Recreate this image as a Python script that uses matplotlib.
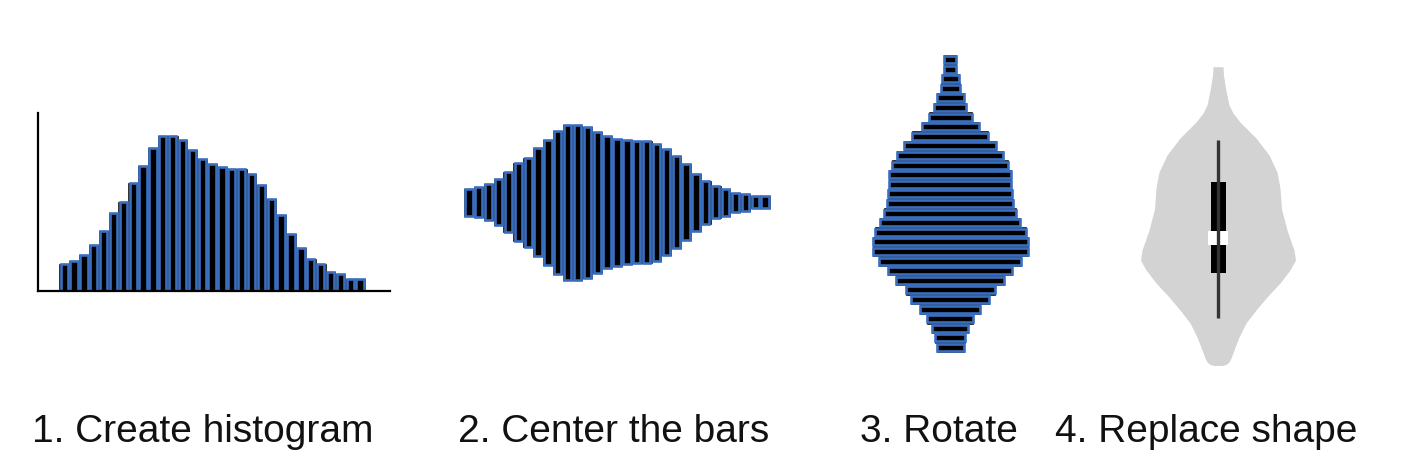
import matplotlib
matplotlib.use("Agg")
import matplotlib.pyplot as plt
import numpy as np

# histogram counts (bin 1 .. bin 31)
counts = [27, 30, 36, 46, 60, 78, 89, 108, 125, 143, 155, 155, 151, 141, 132, 127,
          124, 122, 122, 117, 106, 92, 76, 57, 43, 32, 27, 19, 17, 12, 12]

# violin outline: level (from bottom) and half width
violin_level = [313.3, 305, 292, 275, 267, 258, 250, 242, 225, 208, 192, 171, 150,
                130, 120, 110, 97, 83, 70, 57, 43, 30, 22, 18, 15.5, 14.5]
violin_half = [5, 5.5, 7.5, 11, 15, 22, 30, 38, 51, 59, 62, 63.5, 69,
               76, 77.5, 72, 62, 49, 38, 28, 21, 16, 13, 11, 8, 4]

# box plot stats on the same scale
whisker_lo, q1, median, q3, whisker_hi = 62, 107, 142, 198, 240

labels = ["1. Create histogram", "2. Center the bars", "3. Rotate", "4. Replace shape"]
label_x = [203, 614, 939, 1206]

W, H = 1411, 472
blue = "#3a6ebe"

fig = plt.figure(figsize=(W / 100, H / 100), dpi=100)


def px_axes(l, t, r, b):
    return fig.add_axes([l / W, 1 - b / H, (r - l) / W, (b - t) / H])


def clean(ax):
    ax.set_xticks([])
    ax.set_yticks([])
    for s in ax.spines.values():
        s.set_visible(False)
    ax.patch.set_alpha(0)


x = np.arange(len(counts))
h = np.array(counts)

# 1. histogram
ax1 = px_axes(38, 113, 390, 291)
ax1.bar(x, h, width=1, align="edge", color="#111111", edgecolor="#111111", lw=0.5)
ax1.bar(x + 0.5, h, width=0.74, color="black", edgecolor=blue, lw=1.9)
ax1.set_xlim(-2.16, 33.54)
ax1.set_ylim(0, 178)
ax1.set_xticks([])
ax1.set_yticks([])
ax1.spines["top"].set_visible(False)
ax1.spines["right"].set_visible(False)
ax1.spines["left"].set_linewidth(1.6)
ax1.spines["bottom"].set_linewidth(1.6)
ax1.patch.set_alpha(0)

# 2. centered bars
ax2 = px_axes(450, 40, 790, 370)
ax2.bar(x, h, bottom=-h / 2, width=1, align="edge", color="#111111", edgecolor="#111111", lw=0.5)
ax2.bar(x + 0.5, h, bottom=-h / 2, width=0.74, color="black", edgecolor=blue, lw=1.9)
ax2.set_xlim(-1.42, 33.03)
ax2.set_ylim(-168, 162)
clean(ax2)

# 3. rotated
ax3 = px_axes(850, 40, 1050, 380)
ax3.barh(x, h, left=-h / 2, height=1, align="edge", color="#111111", edgecolor="#111111", lw=0.5)
ax3.barh(x + 0.5, h, left=-h / 2, height=0.74, color="black", edgecolor=blue, lw=1.9)
ax3.set_xlim(-100, 100)
ax3.set_ylim(-2.885, 32.53)
clean(ax3)

# 4. violin
ax4 = px_axes(1118, 40, 1318, 380)
vl = np.array(violin_level)
vh = np.array(violin_half)
ax4.fill_betweenx(vl, -vh, vh, color="#d3d3d3", lw=0)
ax4.vlines(0, whisker_lo, whisker_hi, color="#333333", lw=2.4)
ax4.bar(0, q3 - q1, bottom=q1, width=15, color="black")
ax4.bar(0, 14, bottom=median - 7, width=20, color="white")
ax4.set_xlim(-100, 100)
ax4.set_ylim(0, 340)
clean(ax4)

for lab, lx in zip(labels, label_x):
    fig.text(lx / W, 1 - 442 / H, lab, ha="center", va="baseline",
             fontsize=28, family="Liberation Sans", color="#111111")

fig.savefig("out.png", dpi=100)
